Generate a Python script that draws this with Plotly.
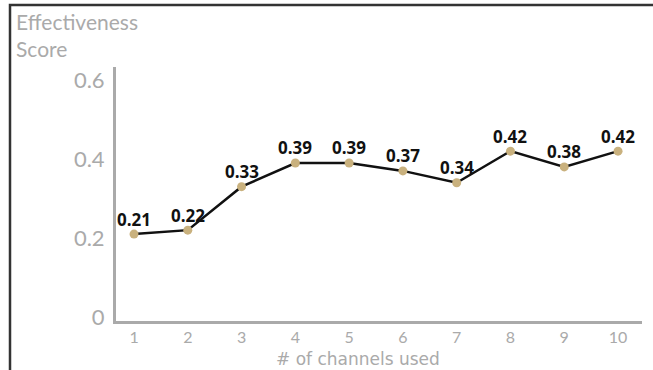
import plotly.graph_objects as go

channels = [1, 2, 3, 4, 5, 6, 7, 8, 9, 10]
scores = [0.21, 0.22, 0.33, 0.39, 0.39, 0.37, 0.34, 0.42, 0.38, 0.42]
y_ticks = [0, 0.2, 0.4, 0.6]
y_tick_labels = ["0", "0.2", "0.4", "0.6"]

W, H = 653, 370
L, R, T, B = 116, 11, 67, 49
pw, ph = W - L - R, H - T - B

fig = go.Figure()
fig.add_trace(go.Scatter(
    x=channels, y=scores,
    mode="lines+markers",
    line=dict(color="#111111", width=2.5),
    marker=dict(color="#c9b17e", size=9),
    hoverinfo="skip",
    showlegend=False,
    cliponaxis=False,
))

def px(x):
    return (x - L) / pw

def py(y):
    return (H - B - y) / ph

annotations = [
    dict(x=c, y=v, xref="x", yref="y", text=f"{v:.2f}", showarrow=False,
         yanchor="middle", xanchor="center", yshift=15,
         font=dict(family="Open Sans", size=17, color="#111111", weight="bold"))
    for c, v in zip(channels, scores)
]
annotations += [
    dict(text="Effectiveness", xref="paper", yref="paper",
         x=px(15), y=py(21.5), xanchor="left", yanchor="middle", borderpad=0,
         showarrow=False, font=dict(family="Lato", size=21, color="#aaaaaa")),
    dict(text="Score", xref="paper", yref="paper",
         x=px(15), y=py(49), xanchor="left", yanchor="middle", borderpad=0,
         showarrow=False, font=dict(family="Lato", size=21, color="#aaaaaa")),
    dict(text="# of channels used", xref="paper", yref="paper",
         x=px(358), y=py(359), xanchor="center", yanchor="middle",
         showarrow=False, font=dict(family="DejaVu Sans", size=17, color="#aaaaaa")),
]

fig.update_layout(
    width=W, height=H,
    margin=dict(l=L, r=R, t=T, b=B, autoexpand=False),
    paper_bgcolor="white",
    plot_bgcolor="white",
    xaxis=dict(
        range=[0.665, 10.446],
        tickvals=channels,
        ticktext=[str(c) for c in channels],
        showgrid=False, zeroline=False, automargin=False,
        showline=True, linecolor="#aaaaaa", linewidth=3,
        ticks="", ticklabelstandoff=0,
        tickfont=dict(family="Lato", size=16, color="#aaaaaa"),
    ),
    yaxis=dict(
        range=[-0.01, 0.633],
        tickvals=y_ticks,
        ticktext=y_tick_labels,
        showgrid=False, zeroline=False, automargin=False,
        showline=True, linecolor="#aaaaaa", linewidth=3,
        ticks="", ticklabelstandoff=4,
        tickfont=dict(family="Lato", size=22, color="#aaaaaa"),
    ),
    shapes=[
        dict(type="rect", xref="paper", yref="paper",
             x0=px(10), x1=px(W + 20), y0=py(5), y1=py(H + 20),
             line=dict(color="#333333", width=2.5), fillcolor="rgba(0,0,0,0)"),
    ],
    annotations=annotations,
)

fig.write_html("out.html", config={"displayModeBar": False},
               post_script="document.body.style.margin='0';")
